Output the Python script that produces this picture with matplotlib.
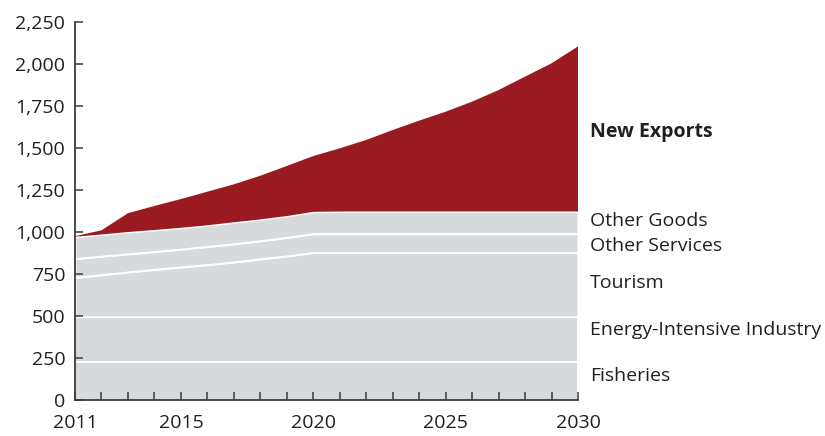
import numpy as np
import matplotlib.pyplot as plt

plt.rcParams['font.family'] = ['Open Sans', 'DejaVu Sans']

years = np.arange(2011, 2031)

# layer sizes (stacked from the bottom)
fisheries = [228, 228, 228, 228, 228, 228, 228, 228, 228, 228,
             228, 228, 228, 228, 228, 228, 228, 228, 228, 228]
energy = [268, 268, 268, 268, 268, 268, 268, 268, 268, 268,
          268, 268, 268, 268, 268, 268, 268, 268, 268, 268]
tourism = [234, 250, 266, 282, 296, 310, 326, 344, 362, 382,
           382, 382, 382, 382, 382, 382, 382, 382, 382, 382]
other_services = [112, 110, 108, 106, 106, 108, 108, 108, 110, 112,
                  112, 112, 112, 112, 112, 112, 112, 112, 112, 112]
other_goods = [130, 129, 130, 128, 127, 126, 128, 127, 127, 130,
               132, 132, 132, 132, 132, 132, 132, 132, 132, 132]
new_exports = [3, 25, 112, 143, 171, 200, 226, 260, 298, 332,
               376, 426, 485, 541, 594, 654, 723, 803, 882, 983]

labels = ["Fisheries", "Energy-Intensive Industry", "Tourism",
          "Other Services", "Other Goods", "New Exports"]
label_y = [143, 417, 698, 918, 1067, 1597]

grey = '#d6dadc'
red = '#9a1a21'

fig = plt.figure(figsize=(8.25, 4.36), dpi=100)
ax = fig.add_axes([0.0909, 0.0826, 0.6097, 0.8669])

ax.stackplot(years, fisheries, energy, tourism, other_services, other_goods,
             colors=[grey] * 5, edgecolor='white', linewidth=1.4)
ax.stackplot(years, np.sum([fisheries, energy, tourism, other_services, other_goods], axis=0),
             new_exports, colors=['none', red], linewidth=0)

ax.set_xlim(2011, 2030)
ax.set_ylim(0, 2250)
ax.set_yticks(np.arange(0, 2251, 250))
ax.set_yticklabels([f"{v:,}" for v in range(0, 2251, 250)])
ax.set_xticks([2011, 2015, 2020, 2025, 2030])
ax.set_xticks(years, minor=True)

for s in ['top', 'right']:
    ax.spines[s].set_visible(False)
for s in ['left', 'bottom']:
    ax.spines[s].set_color('#3a3a3a')
    ax.spines[s].set_linewidth(1.3)

ax.tick_params(axis='both', which='both', direction='in', length=6, width=1.1,
               color='#3a3a3a', labelsize=14, labelcolor='#231f20')
ax.tick_params(axis='y', pad=7)
ax.tick_params(axis='x', pad=10)

for lab, y in zip(labels, label_y):
    ax.text(2030.45, y, lab, fontsize=14, va='center', ha='left',
            color='#231f20', clip_on=False,
            fontweight='bold' if lab == "New Exports" else 'normal')

fig.savefig('out.png', dpi=100)
